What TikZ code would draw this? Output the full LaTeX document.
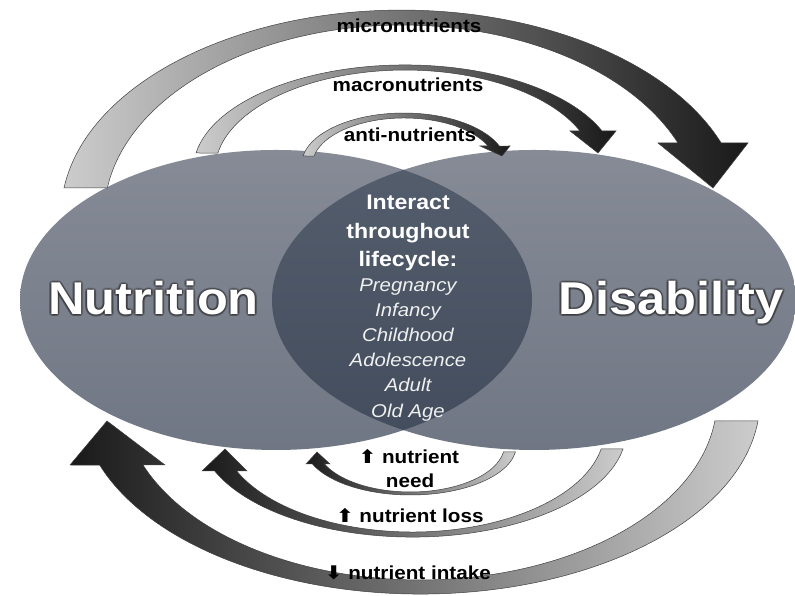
\documentclass[tikz,border=0pt]{standalone}
\usepackage{fontspec}
\setmainfont{Liberation Sans}[FakeStretch=1.1]
\newfontfamily\symfont{DejaVu Sans}[FakeStretch=1.1]
\usepackage{xcolor}
\usepackage{tikz}
\usetikzlibrary{positioning}

\definecolor{elltop}{RGB}{134,139,150}
\definecolor{ellbot}{RGB}{112,119,132}
\definecolor{lenstop}{RGB}{84,94,109}
\definecolor{lensbot}{RGB}{66,76,92}

\tikzset{
  overarrow/.style={draw=black!75, line width=0.5pt, left color=black!20, middle color=black!30, right color=black!90},
  underarrow/.style={draw=black!75, line width=0.5pt, left color=black!90, middle color=black!32, right color=black!20},
  arclabel/.style={font=\fontsize{18.8}{22}\selectfont\bfseries, inner sep=0pt, anchor=base},
  bigword/.style={font=\fontsize{46}{50}\selectfont\bfseries, inner sep=0pt, anchor=base},
}

\begin{document}
\begin{tikzpicture}[x=1pt,y=1pt]

\useasboundingbox (0,0) rectangle (795,596);

\shade[top color=elltop, bottom color=ellbot] (276,296) ellipse[x radius=256, y radius=150];
\shade[top color=elltop, bottom color=ellbot] (534,296) ellipse[x radius=262, y radius=150];

\begin{scope}
\clip (276,296) ellipse[x radius=256, y radius=150];
\shade[top color=lenstop, bottom color=lensbot] (534,296) ellipse[x radius=262, y radius=150];
\end{scope}

% arrows above
\path[overarrow] (64,408) arc[start angle=172.4, end angle=20.6, x radius=341, y radius=205]
  -- (748,453) -- (713,408) -- (658,453) -- (678,453)
  arc[start angle=22.3, end angle=171.8, x radius=298, y radius=190] -- cycle;

\path[overarrow] (196,443) arc[start angle=170.7, end angle=21.8, x radius=212, y radius=105]
  -- (616,465) -- (598,443) -- (570,465) -- (580,465)
  arc[start angle=23, end angle=170.2, x radius=190, y radius=100] -- cycle;

\path[overarrow] (303,440) arc[start angle=170, end angle=21.4, x radius=102.5, y radius=52]
  -- (510,450) -- (502,440) -- (480,450) -- (488,450)
  arc[start angle=23.85, end angle=169, x radius=91.7, y radius=47] -- cycle;

% arrows below
\path[underarrow] (758,175) arc[start angle=-6.2, end angle=-160.4, x radius=340, y radius=194]
  -- (70,131) -- (107,175) -- (165,131) -- (143,131)
  arc[start angle=-158.8, end angle=-6.7, x radius=297, y radius=180] -- cycle;

\path[underarrow] (623,147) arc[start angle=-10.2, end angle=-157.5, x radius=214, y radius=107]
  -- (202,125) -- (225,147) -- (247,125) -- (236.7,125)
  arc[start angle=-156.3, end angle=-10.7, x radius=192, y radius=102] -- cycle;

\path[underarrow] (515.4,144) arc[start angle=-8.05, end angle=-157.7, x radius=106, y radius=50]
  -- (306,132) -- (317,144) -- (330,132) -- (324.5,132)
  arc[start angle=-156.15, end angle=-8.57, x radius=94, y radius=47] -- cycle;

\node[arclabel] (micro) at (409,563) {micronutrients};
\node[arclabel] (macro) at (408,504) {macronutrients};
\node[arclabel] (anti) at (410,454) {anti-nutrients};

\node[arclabel] (needa) at (409,132) {{\symfont ⬆} nutrient};
\node[arclabel] (needb) at (410,108) {need};
\node[arclabel] (loss) at (410,73) {{\symfont ⬆} nutrient loss};
\node[arclabel] (intake) at (408,16) {{\symfont ⬇} nutrient intake};

% dark glow round the two big words
\foreach \a in {0,30,...,330} {
  \node[bigword, text=black!85, opacity=0.22, shift={(\a:2)}] (nutglow\a) at (153.5,281) {Nutrition};
  \node[bigword, text=black!85, opacity=0.22, shift={(\a:2)}] (disglow\a) at (671,281) {Disability};
}
\node[bigword, text=white] (nutrition) at (153.5,281) {Nutrition};
\node[bigword, text=white] (disability) at (671,281) {Disability};

\node[font=\fontsize{21}{28.5}\selectfont\bfseries, text=white, align=center, inner sep=0pt, anchor=north] (interact) at (408,401) {Interact\\throughout\\lifecycle:};
\node[font=\fontsize{18.5}{25.2}\selectfont\itshape, text=white!94!black, align=center, inner sep=0pt, below=7pt of interact] (stages) {Pregnancy\\Infancy\\Childhood\\Adolescence\\Adult\\Old Age};

\end{tikzpicture}
\end{document}
